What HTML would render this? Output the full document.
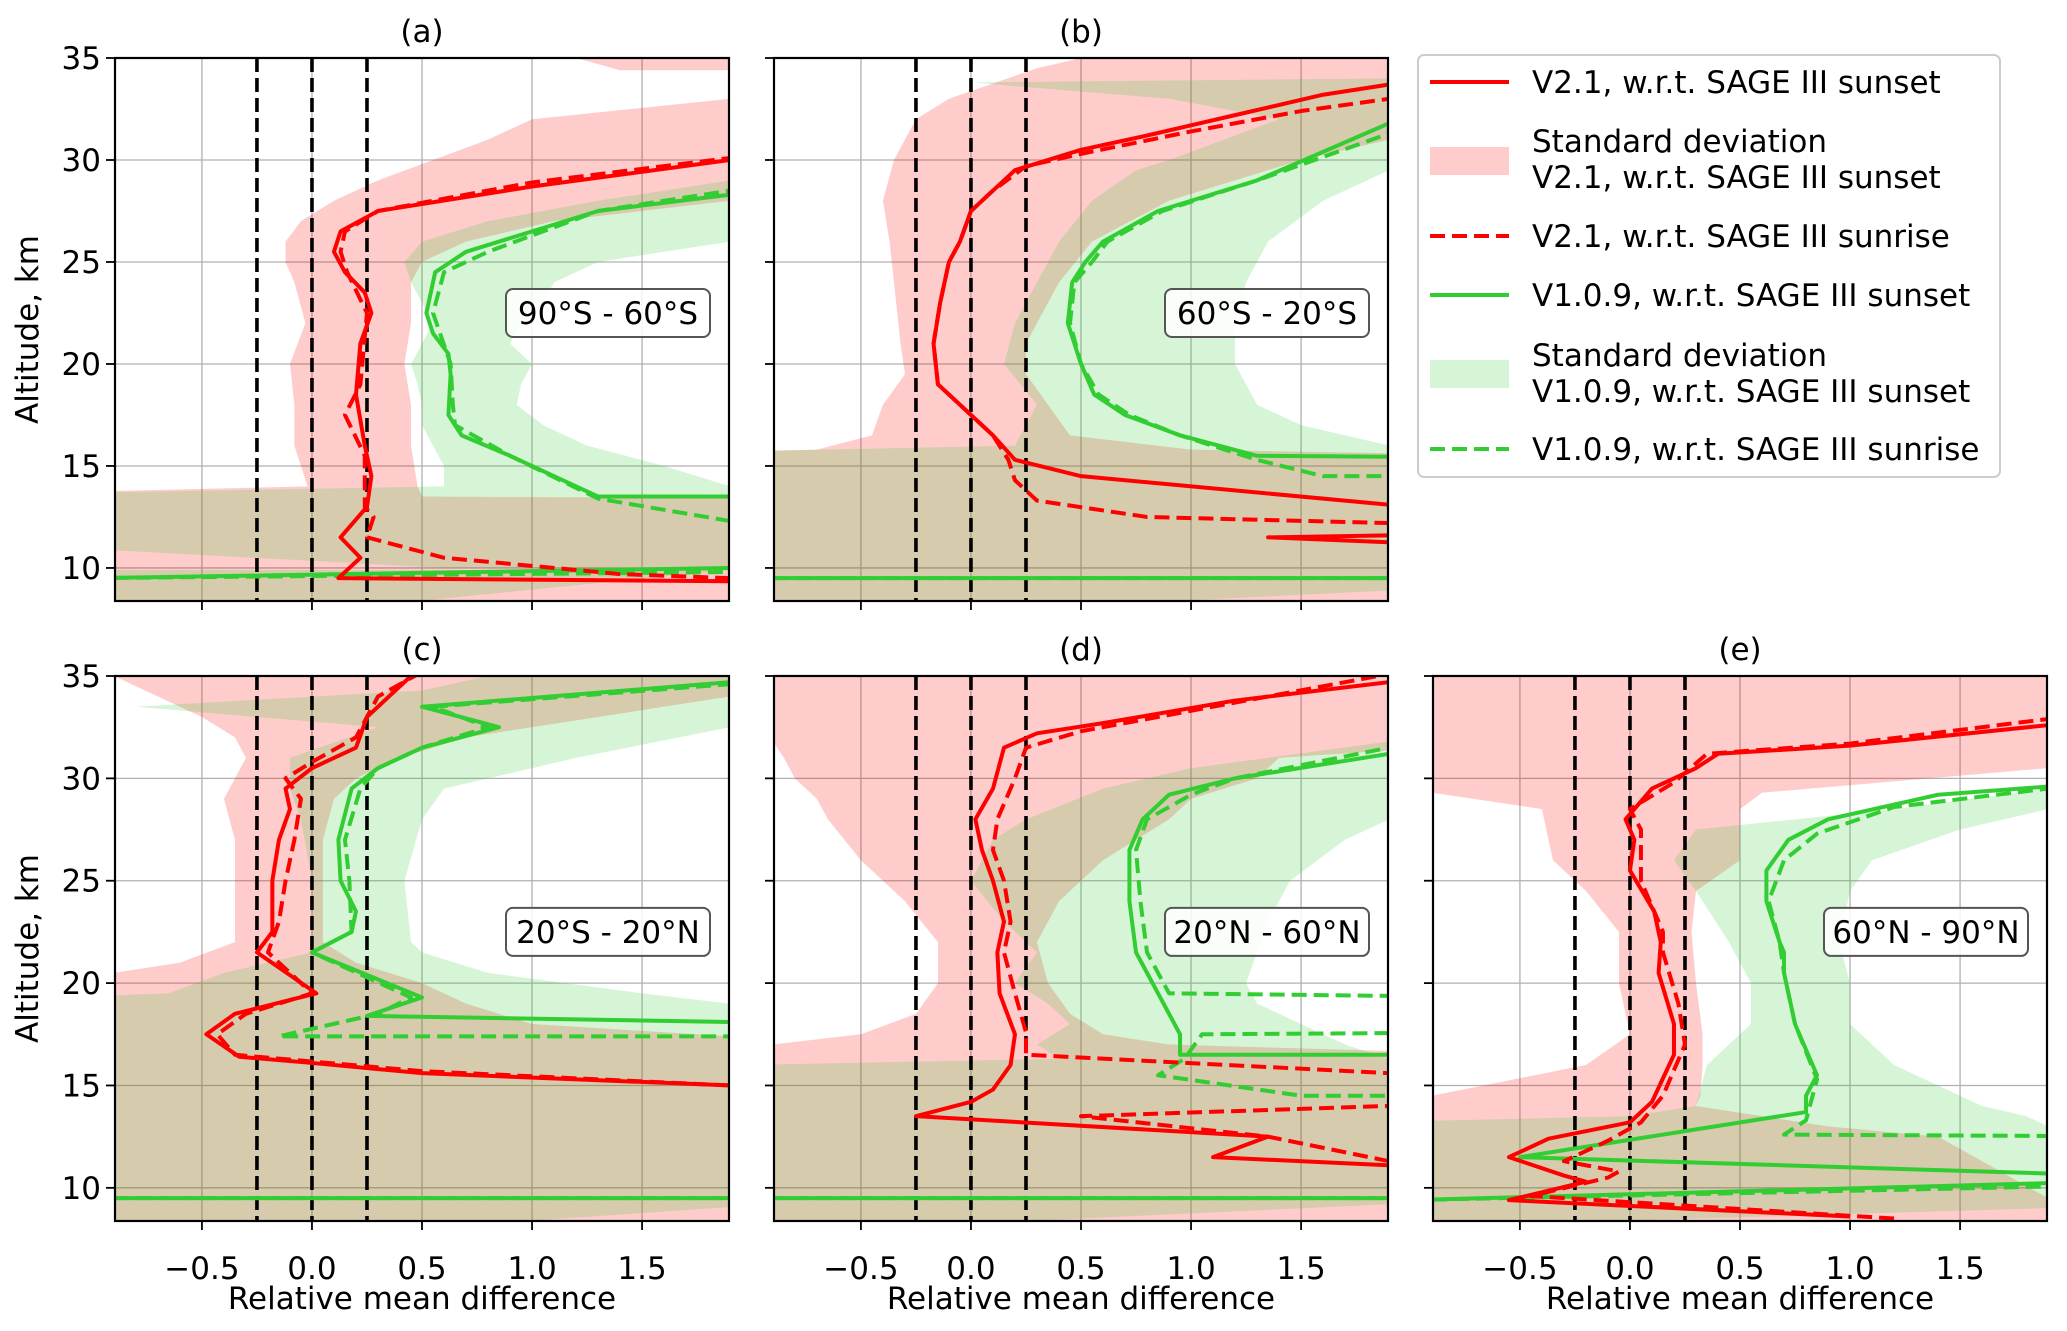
<!DOCTYPE html>
<html><head><meta charset="utf-8"><style>
body{margin:0;background:#fff;}
svg text{font-family:"DejaVu Sans","Liberation Sans",sans-serif;fill:#000;}
</style></head><body>
<svg id="fig" width="2067" height="1326" viewBox="0 0 2067 1326" xmlns="http://www.w3.org/2000/svg">
<defs></defs>
<g id="panels"></g>
<g id="legend">
  <rect x="1418" y="55" width="582" height="422" rx="6" fill="#fff" stroke="#ccc" stroke-width="2"/>
  <line x1="1430" y1="82" x2="1509" y2="82" stroke="#ff0000" stroke-width="4"/>
  <text x="1532" y="93" font-size="31">V2.1, w.r.t. SAGE III sunset</text>
  <rect x="1430" y="147" width="79" height="28" fill="rgba(255,0,0,0.2)"/>
  <text x="1532" y="152" font-size="31">Standard deviation</text>
  <text x="1532" y="188" font-size="31">V2.1, w.r.t. SAGE III sunset</text>
  <line x1="1430" y1="236" x2="1509" y2="236" stroke="#ff0000" stroke-width="4" stroke-dasharray="15,7"/>
  <text x="1532" y="247" font-size="31">V2.1, w.r.t. SAGE III sunrise</text>
  <line x1="1430" y1="295" x2="1509" y2="295" stroke="#32cd32" stroke-width="4"/>
  <text x="1532" y="306" font-size="31">V1.0.9, w.r.t. SAGE III sunset</text>
  <rect x="1430" y="360" width="79" height="28" fill="rgba(50,205,50,0.2)"/>
  <text x="1532" y="366" font-size="31">Standard deviation</text>
  <text x="1532" y="402" font-size="31">V1.0.9, w.r.t. SAGE III sunset</text>
  <line x1="1430" y1="449" x2="1509" y2="449" stroke="#32cd32" stroke-width="4" stroke-dasharray="15,7"/>
  <text x="1532" y="460" font-size="31">V1.0.9, w.r.t. SAGE III sunrise</text>
</g>
</svg>
<script>
const xTicks=[-0.5,0.0,0.5,1.0,1.5];
const xTickLabels=["\u22120.5","0.0","0.5","1.0","1.5"];
const yTicks=[10,15,20,25,30,35];
const yTickLabels=["10","15","20","25","30","35"];
const refLines=[-0.25,0,0.25];
const panelTitles=["(a)","(b)","(c)","(d)","(e)"];
const regionLabels=["90°S - 60°S","60°S - 20°S","20°S - 20°N","20°N - 60°N","60°N - 90°N"];

const redSunset=[
 [[2.5,9.3],[0.12,9.5],[0.17,10],[0.22,10.5],[0.13,11.5],[0.25,13],[0.27,14.5],[0.24,16],[0.2,18.5],[0.22,21],[0.27,22.5],[0.24,23.5],[0.15,24.5],[0.1,25.5],[0.13,26.5],[0.3,27.5],[1.0,28.7],[1.9,30],[2.5,31]],
 [[2.5,11.0],[1.35,11.5],[2.5,11.7],[2.5,13],[1.9,13.1],[0.5,14.5],[0.2,15.3],[0.1,16.5],[-0.05,18.0],[-0.15,19.0],[-0.17,21],[-0.14,23],[-0.1,25],[-0.05,26],[0.0,27.5],[0.1,28.5],[0.2,29.5],[0.5,30.5],[0.8,31.2],[1.2,32.2],[1.6,33.2],[1.9,33.7]],
 [[2.5,14.9],[1.9,15.0],[0.5,15.6],[0.0,16.1],[-0.33,16.4],[-0.48,17.5],[-0.35,18.5],[0.02,19.5],[-0.25,21.5],[-0.18,22.5],[-0.18,25],[-0.15,27],[-0.1,28.5],[-0.12,29.5],[0.0,30.5],[0.2,31.5],[0.25,33],[0.5,35.5]],
 [[2.5,9.6],[1.9,9.7],[2.5,9.8],[2.5,11],[1.9,11.1],[1.1,11.5],[1.35,12.5],[-0.25,13.5],[0.0,14.2],[0.1,14.8],[0.18,16.0],[0.2,17.5],[0.13,19.5],[0.12,21.5],[0.15,23],[0.1,25],[0.05,26.5],[0.02,28],[0.1,29.5],[0.15,31.5],[0.3,32.2],[0.6,32.7],[1.2,33.8],[1.9,34.7]],
 [[1.0,8.6],[-0.55,9.4],[-0.2,10.3],[-0.3,10.6],[-0.55,11.5],[-0.37,12.4],[0.0,13.2],[0.1,14.2],[0.2,16.5],[0.2,18],[0.13,20.5],[0.14,22],[0.11,23.5],[0.0,25.5],[0.02,27],[-0.02,28],[0.1,29.5],[0.3,30.5],[0.4,31.2],[1.0,31.6],[1.9,32.6]]
];
const redSunrise=[
 [[2.5,9.4],[1.9,9.5],[1.4,9.7],[0.6,10.5],[0.25,11.5],[0.28,12.5],[0.24,13],[0.24,15.5],[0.15,17.5],[0.22,19],[0.25,22.5],[0.16,24.5],[0.13,25.5],[0.15,26.5],[0.3,27.5],[1.0,28.9],[1.9,30.1]],
 [[2.5,11.8],[1.9,12.2],[0.8,12.5],[0.3,13.3],[0.2,14.3],[0.17,15.3],[0.1,16.5],[-0.05,18],[-0.15,19],[-0.17,21],[-0.14,23],[-0.1,25],[-0.05,26],[0.0,27.5],[0.1,28.5],[0.25,29.7],[0.5,30.3],[1.0,31.4],[1.5,32.4],[1.9,33]],
 [[2.5,14.9],[1.9,15.0],[0.5,15.7],[-0.35,16.5],[-0.43,17.5],[-0.3,18.5],[0.0,19.5],[-0.2,21.5],[-0.15,23],[-0.12,25],[-0.08,27],[-0.05,29],[-0.12,30],[0.0,30.8],[0.2,32],[0.3,34],[0.55,35.5]],
 [[2.5,11.0],[1.9,11.3],[1.35,12.5],[0.5,13.5],[1.9,14.0],[2.5,14.2],[2.5,15.5],[1.9,15.6],[0.25,16.5],[0.25,17.6],[0.2,19.5],[0.15,21.5],[0.18,23],[0.15,25],[0.1,26.5],[0.12,28],[0.2,30],[0.25,31.5],[0.5,32.3],[1.0,33.3],[1.9,35.1]],
 [[1.2,8.5],[-0.45,9.6],[-0.1,10.5],[-0.05,10.8],[-0.3,11.3],[-0.1,12.3],[0.05,13.2],[0.15,14.5],[0.25,17],[0.22,19],[0.15,21.5],[0.15,22.5],[0.05,25],[0.05,27.5],[0.0,28.5],[0.2,29.8],[0.35,31.2],[1.0,31.7],[1.9,32.9]]
];
const greenSunset=[
 [[-1,9.5],[1.9,10.0],[2.5,10.5],[2.5,13.5],[1.3,13.5],[0.9,15.5],[0.68,16.5],[0.62,17.5],[0.63,19.5],[0.62,20.5],[0.55,21.5],[0.52,22.5],[0.56,24.5],[0.7,25.5],[1.3,27.5],[1.9,28.3]],
 [[-1,9.5],[2.5,9.5],[2.5,15.4],[1.3,15.5],[0.95,16.5],[0.7,17.5],[0.56,18.5],[0.5,20],[0.44,22],[0.46,24],[0.52,25],[0.6,26],[0.85,27.5],[1.3,29],[1.9,31.8]],
 [[-1,9.5],[2.5,9.5],[2.5,18],[1.9,18.1],[0.25,18.4],[0.5,19.3],[0.0,21.5],[0.18,22.5],[0.2,23.5],[0.13,25],[0.12,27],[0.18,29.5],[0.3,30.5],[0.5,31.5],[0.85,32.5],[0.5,33.5],[1.9,34.7]],
 [[-1,9.5],[2.5,9.5],[2.5,16.5],[0.95,16.5],[0.95,17.5],[0.85,19.5],[0.75,21.5],[0.72,24],[0.72,26.5],[0.78,28],[0.9,29.2],[1.2,30],[1.9,31.2]],
 [[-1,9.4],[2.5,10.4],[2.5,10.7],[1.9,10.7],[-0.5,11.5],[0.8,13.7],[0.8,14.5],[0.85,15.5],[0.75,18],[0.7,20.5],[0.7,21.5],[0.68,22],[0.62,24],[0.62,25.5],[0.72,27],[0.9,28],[1.4,29.2],[1.9,29.6]]
];
const greenSunrise=[
 [[-1,9.5],[1.9,9.8],[2.5,10.5],[2.5,11.5],[1.9,12.3],[1.3,13.4],[0.9,15.5],[0.65,17],[0.64,18],[0.63,20],[0.55,22.5],[0.6,24.5],[0.8,25.5],[1.3,27.5],[1.9,28.5]],
 [[-1,9.5],[2.5,9.5],[2.5,14.5],[1.6,14.5],[1.3,15.3],[0.95,16.5],[0.72,17.5],[0.58,18.5],[0.5,20],[0.45,22],[0.47,24],[0.55,25],[0.62,26],[0.87,27.5],[1.3,29],[1.9,31.3]],
 [[-1,9.5],[2.5,9.5],[2.5,17.4],[-0.15,17.4],[0.3,18.5],[0.45,19.3],[0.0,21.5],[0.18,22.5],[0.17,25],[0.15,27],[0.22,29.5],[0.3,30.5],[0.5,31.5],[0.8,32.5],[0.55,33.5],[1.9,34.6]],
 [[-1,9.5],[2.5,9.5],[2.5,13.5],[1.9,14.5],[1.5,14.5],[0.85,15.5],[0.97,16.3],[1.05,17.5],[2.5,17.6],[2.5,19.3],[0.9,19.5],[0.8,21.5],[0.77,24],[0.75,26.5],[0.8,28],[1.0,29.2],[1.2,30],[1.9,31.5]],
 [[-1,9.4],[2.5,10.2],[2.5,12.5],[0.7,12.6],[0.8,13.3],[0.85,15.3],[0.75,18],[0.7,20.5],[0.68,22],[0.63,24],[0.7,26],[0.85,27.3],[1.2,28.6],[1.9,29.5]]
];
const redBand=[
 [[[8.4,-2,2.5],[13.4,-2,2.5],[13.5,-2,0.5],[14,-0.02,0.48],[16,-0.08,0.45],[18,-0.08,0.45],[20,-0.1,0.42],[22,-0.03,0.45],[24,-0.08,0.45],[25,-0.12,0.5],[26,-0.12,0.7],[27,-0.05,1.1],[28,0.1,1.9],[29,0.3,2.5],[30,0.55,2.5],[31,0.8,2.5],[32,1.0,2.5],[33,1.9,2.5]],[[34.4,1.4,2.5],[35,1.2,2.5]]],
 [[[8.4,-2,2.5],[15.5,-2,2.5],[15.8,-0.7,1.0],[16.5,-0.45,0.45],[18,-0.4,0.35],[19.5,-0.3,0.25],[21,-0.32,0.25],[24,-0.35,0.4],[26,-0.37,0.55],[28,-0.4,0.9],[30,-0.35,1.5],[31,-0.3,1.9],[32,-0.25,2.5],[33,-0.1,2.5],[34.5,0.3,2.5],[35,0.5,2.5]]],
 [[[8.4,-2,2.5],[17,-2,2.5],[18,-2,1.0],[19,-2,0.7],[20,-2,0.5],[20.5,-0.9,0.35],[21,-0.6,0.2],[22,-0.35,0.05],[24,-0.35,0.05],[27,-0.35,0.05],[29,-0.4,0.1],[30,-0.35,0.2],[31,-0.3,0.4],[32,-0.35,0.7],[33,-0.5,1.3],[34,-0.7,1.9],[35,-0.9,1.9]]],
 [[[8.4,-2,2.5],[16.5,-2,2.5],[17,-0.9,0.9],[17.5,-0.5,0.6],[18.5,-0.25,0.45],[20,-0.15,0.35],[22,-0.15,0.3],[24,-0.3,0.4],[26,-0.5,0.6],[28,-0.65,0.9],[29,-0.7,1.0],[30,-0.8,1.3],[31,-0.85,1.4],[31.8,-0.9,2.5],[35,-2,2.5]]],
 [[[8.4,-2,2.5],[9.3,-2,2.5],[9.5,-2,1.9],[12.5,-2,1.4],[13,-2,0.9],[14,-2,0.3],[14.5,-0.9,0.32],[16,-0.2,0.33],[17.5,0.0,0.33],[20,-0.05,0.3],[22.5,-0.05,0.28],[24.5,-0.2,0.3],[26,-0.35,0.5],[28.5,-0.4,0.5],[29.3,-0.9,0.6],[30.5,-2,1.9],[35,-2,2.5]]]
];
const greenBand=[
 [[[8.4,-2,0.5],[9.9,-2,1.9]],[[10.0,0.6,2.5],[11.5,-2,2.5],[13.4,-2,2.5],[13.5,-2,2.5],[14,0.6,1.9],[15,0.6,1.6],[16,0.55,1.25],[17,0.5,1.05],[18,0.5,0.93],[19,0.48,0.95],[20,0.45,1.0],[21,0.5,0.9],[22,0.55,0.95],[23,0.5,1.05],[24,0.45,1.1],[25,0.42,1.3],[26,0.5,1.9],[27,0.8,2.5],[28,1.3,2.5],[29,1.9,1.9]]],
 [[[8.4,-2,0.95],[9.2,-2,2.5],[15.5,-2,2.5],[16,0.2,1.9],[17,0.25,1.5],[18,0.3,1.3],[20,0.15,1.2],[22,0.2,1.2],[24,0.3,1.25],[26,0.4,1.35],[28,0.55,1.6],[29.5,0.75,1.9],[30,0.9,2.5],[32,1.4,2.5],[33,0.9,2.5],[33.8,0.0,2.5],[34,1.9,2.5]]],
 [[[8.4,-2,1.0],[9.5,-2,2.5],[16.5,-2,2.5],[19,-2,1.9],[19.5,-0.65,1.5],[20.5,-0.4,0.8],[21.5,0.0,0.5],[22,0.0,0.45],[25,0.0,0.42],[28,-0.05,0.5],[29.5,-0.1,0.6],[31,-0.1,1.2],[32.5,0.3,1.9],[33.5,-0.8,2.5],[34.3,0.5,2.5],[35,0.8,2.5]]],
 [[[8.4,-2,0.3],[9.5,-2,2.5],[15.8,-2,2.5],[16.3,0.4,1.9],[17,0.3,1.7],[18,0.45,1.5],[19,0.35,1.3],[20,0.2,1.25],[21.5,0.3,1.3],[23,0.15,1.35],[25,0.0,1.45],[27,0.1,1.7],[28,0.25,1.9],[29.5,0.6,2.5],[30.5,1.0,2.5],[31.8,1.9,2.5]]],
 [[[8.4,-2,0.0],[9.2,-2,2.5],[12.3,-2,2.5],[12.5,-2,1.9],[13,-2,1.9],[13.5,0.0,1.8],[14,0.3,1.6],[16,0.35,1.2],[18,0.55,1.0],[20,0.55,1.0],[22,0.45,0.95],[24.5,0.3,1.0],[26,0.2,1.1],[27.5,0.3,1.5],[28.5,1.2,1.9],[29.5,1.9,2.5]]]
];

const NS='http://www.w3.org/2000/svg';
const panels=[
 {x0:115,x1:729,y0:58,y1:601,ylab:true,xlab:false},
 {x0:774,x1:1388,y0:58,y1:601,ylab:false,xlab:false},
 {x0:115,x1:729,y0:676,y1:1221,ylab:true,xlab:true},
 {x0:774,x1:1388,y0:676,y1:1221,ylab:false,xlab:true},
 {x0:1433,x1:2047,y0:676,y1:1221,ylab:false,xlab:true}
];
const XMIN=-0.895,XMAX=1.895,YMIN=8.38,YMAX=35;
function mk(tag,attrs,parent){const e=document.createElementNS(NS,tag);for(const k in attrs)e.setAttribute(k,attrs[k]);parent.appendChild(e);return e;}
const root=document.getElementById('panels');
const defs=document.querySelector('defs');
panels.forEach((p,i)=>{
 const sx=v=>p.x0+(v-XMIN)/(XMAX-XMIN)*(p.x1-p.x0);
 const sy=v=>p.y1-(v-YMIN)/(YMAX-YMIN)*(p.y1-p.y0);
 const cp=mk('clipPath',{id:'clip'+i},defs);
 mk('rect',{x:p.x0,y:p.y0,width:p.x1-p.x0,height:p.y1-p.y0},cp);
 const g=mk('g',{},root);
 
 
 const inner=mk('g',{'clip-path':'url(#clip'+i+')'},g);
 xTicks.forEach(t=>{const l=mk('line',{x1:sx(t),x2:sx(t),y1:p.y0,y2:p.y1,stroke:'#b0b0b0','stroke-width':1.3},inner);
  });
 yTicks.forEach(t=>{const l=mk('line',{x1:p.x0,x2:p.x1,y1:sy(t),y2:sy(t),stroke:'#b0b0b0','stroke-width':1.3},inner);
  });
 const band=(segs,fill,name)=>segs.forEach(seg=>{
  const up=seg.map(r=>sx(r[2])+','+sy(r[0]));
  const lo=seg.slice().reverse().map(r=>sx(r[1])+','+sy(r[0]));
  const pg=mk('polygon',{points:up.concat(lo).join(' '),fill:fill},inner);
  
  
 });
 band(redBand[i],'rgba(255,0,0,0.2)','v21-std-band');
 band(greenBand[i],'rgba(50,205,50,0.2)','v109-std-band');
 refLines.forEach(r=>{const l=mk('line',{x1:sx(r),x2:sx(r),y1:p.y0,y2:p.y1,stroke:'#000','stroke-width':3.6,'stroke-dasharray':'14,6'},inner);
  });
 const line=(pts,col,dash,name)=>{
  const pl=mk('polyline',{points:pts.map(q=>sx(q[0])+','+sy(q[1])).join(' '),fill:'none',stroke:col,'stroke-width':4,'stroke-linejoin':'round'},inner);
  if(dash)pl.setAttribute('stroke-dasharray','15,7');
  
  
 };
 line(greenSunset[i],'#32cd32',false,'v109-sunset-line');
 line(greenSunrise[i],'#32cd32',true,'v109-sunrise-line');
 line(redSunset[i],'#ff0000',false,'v21-sunset-line');
 line(redSunrise[i],'#ff0000',true,'v21-sunrise-line');
 const fr=mk('rect',{x:p.x0,y:p.y0,width:p.x1-p.x0,height:p.y1-p.y0,fill:'none',stroke:'#000','stroke-width':2.2},g);
 
 xTicks.forEach((t,k)=>{mk('line',{x1:sx(t),x2:sx(t),y1:p.y1,y2:p.y1+9,stroke:'#000','stroke-width':1.8},g);
  if(p.xlab){const tx=mk('text',{x:sx(t),y:p.y1+58,'font-size':31,'text-anchor':'middle'},g);tx.textContent=xTickLabels[k];
   }});
 yTicks.forEach((t,k)=>{mk('line',{x1:p.x0-9,x2:p.x0,y1:sy(t),y2:sy(t),stroke:'#000','stroke-width':1.8},g);
  if(p.ylab){const tx=mk('text',{x:p.x0-14,y:sy(t)+11,'font-size':31,'text-anchor':'end'},g);tx.textContent=yTickLabels[k];
   }});
 const ti=mk('text',{x:(p.x0+p.x1)/2,y:p.y0-16,'font-size':31,'text-anchor':'middle'},g);ti.textContent=panelTitles[i];
 
 if(p.xlab){const xl=mk('text',{x:(p.x0+p.x1)/2,y:p.y1+88,'font-size':31,'text-anchor':'middle'},g);xl.textContent='Relative mean difference';
  }
 if(p.ylab){const cy=(p.y0+p.y1)/2;const yl=mk('text',{x:38,y:cy,'font-size':31,'text-anchor':'middle',transform:'rotate(-90 38 '+cy+')'},g);yl.textContent='Altitude, km';
  }
 const by=sy(22.5);
 const rb=mk('rect',{x:p.x0+391,y:by-24,width:204,height:48,rx:7,fill:'rgba(255,255,255,0.85)',stroke:'#555','stroke-width':2},g);
 
 const rt=mk('text',{x:p.x0+493,y:by+11,'font-size':31,'text-anchor':'middle'},g);rt.textContent=regionLabels[i];
 
});
</script>
</body></html>
